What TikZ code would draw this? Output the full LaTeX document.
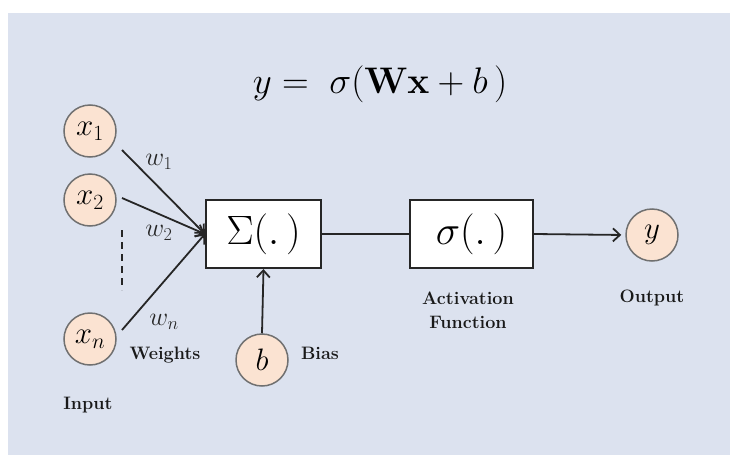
\RequirePackage{fix-cm}
\documentclass[tikz,border=0pt]{standalone}
\usetikzlibrary{arrows.meta,calc}
\definecolor{bgblue}{HTML}{DCE2EF}
\definecolor{peach}{HTML}{FBE3D2}
\definecolor{ringgray}{HTML}{707070}
\begin{document}
\begin{tikzpicture}[x=1pt,y=-1pt,
  neuron/.style={circle,draw=ringgray,line width=1.5pt,fill=peach,minimum size=52pt,inner sep=0pt,font=\fontsize{31}{34}\selectfont},
  opbox/.style={draw=black!85,line width=2.2pt,fill=white,minimum height=68pt,inner sep=0pt,font=\fontsize{41}{44}\selectfont},
  lbl/.style={font=\fontsize{18}{24}\selectfont\bfseries,align=center,text=black!90},
  wlbl/.style={font=\fontsize{26}{28}\selectfont,text=black!85},
  conn/.style={line width=1.8pt,draw=black!85},
  arr/.style={conn,-{Straight Barb[length=7pt,width=13pt,line width=1.8pt]}}
]
\useasboundingbox (0,0) rectangle (730,455);
\fill[white] (0,0) rectangle (730,455);
\fill[bgblue] (8,13) rectangle (730,455);

% formula
\node[anchor=base,inner sep=0pt,font=\fontsize{37}{42}\selectfont] (formula) at (380,93)
  {$y =\;\sigma(\mathbf{W}\mathbf{x} + b\,)$};

% inputs
\node[neuron] (x1) at (90,131) {$x_1$};
\node[neuron] (x2) at (90,200) {$x_2$};
\node[neuron] (xn) at (90,339) {$x_n$};
\node[neuron] (b) at (262,360) {$b$};
\node[neuron] (y) at (652,235) {$y$};

% boxes
\node[opbox,minimum width=115pt] (sum) at (263.5,234) {$\Sigma(.\,)$};
\node[opbox,minimum width=123pt] (sig) at (471.5,234) {$\sigma(.\,)$};

% start points of weight lines
\coordinate (s1) at ($(x1)+(32,19)$);
\coordinate (s2) at ($(x2)+(32,-2)$);
\coordinate (sn) at ($(xn)+(32,-9)$);
\coordinate (dtop) at (122,230);
\coordinate (dbot) at (122,290);

\draw[arr] (s1) -- (sum.west);
\draw[arr] (s2) -- (sum.west);
\draw[arr] (sn) -- (sum.west);
\draw[conn,dash pattern=on 7pt off 5pt] (dtop) -- (dbot);

\draw[conn] (sum.east) -- (sig.west);
\draw[arr,shorten >=4pt] (sig.east) -- (y.west);
\draw[arr] (b.north) -- (sum.south);

% labels
\node[wlbl] (w1) at (159,162) {$w_1$};
\node[wlbl] (w2) at (159,233) {$w_2$};
\node[wlbl] (wn) at (164,322) {$w_n$};
\node[lbl] (weights) at (165,355) {Weights};
\node[lbl] (bias) at (320,353) {Bias};
\node[lbl] (input) at (88,405) {Input};
\node[lbl] (act) at (468,310) {Activation\\Function};
\node[lbl] (output) at (652,298) {Output};
\end{tikzpicture}
\end{document}
